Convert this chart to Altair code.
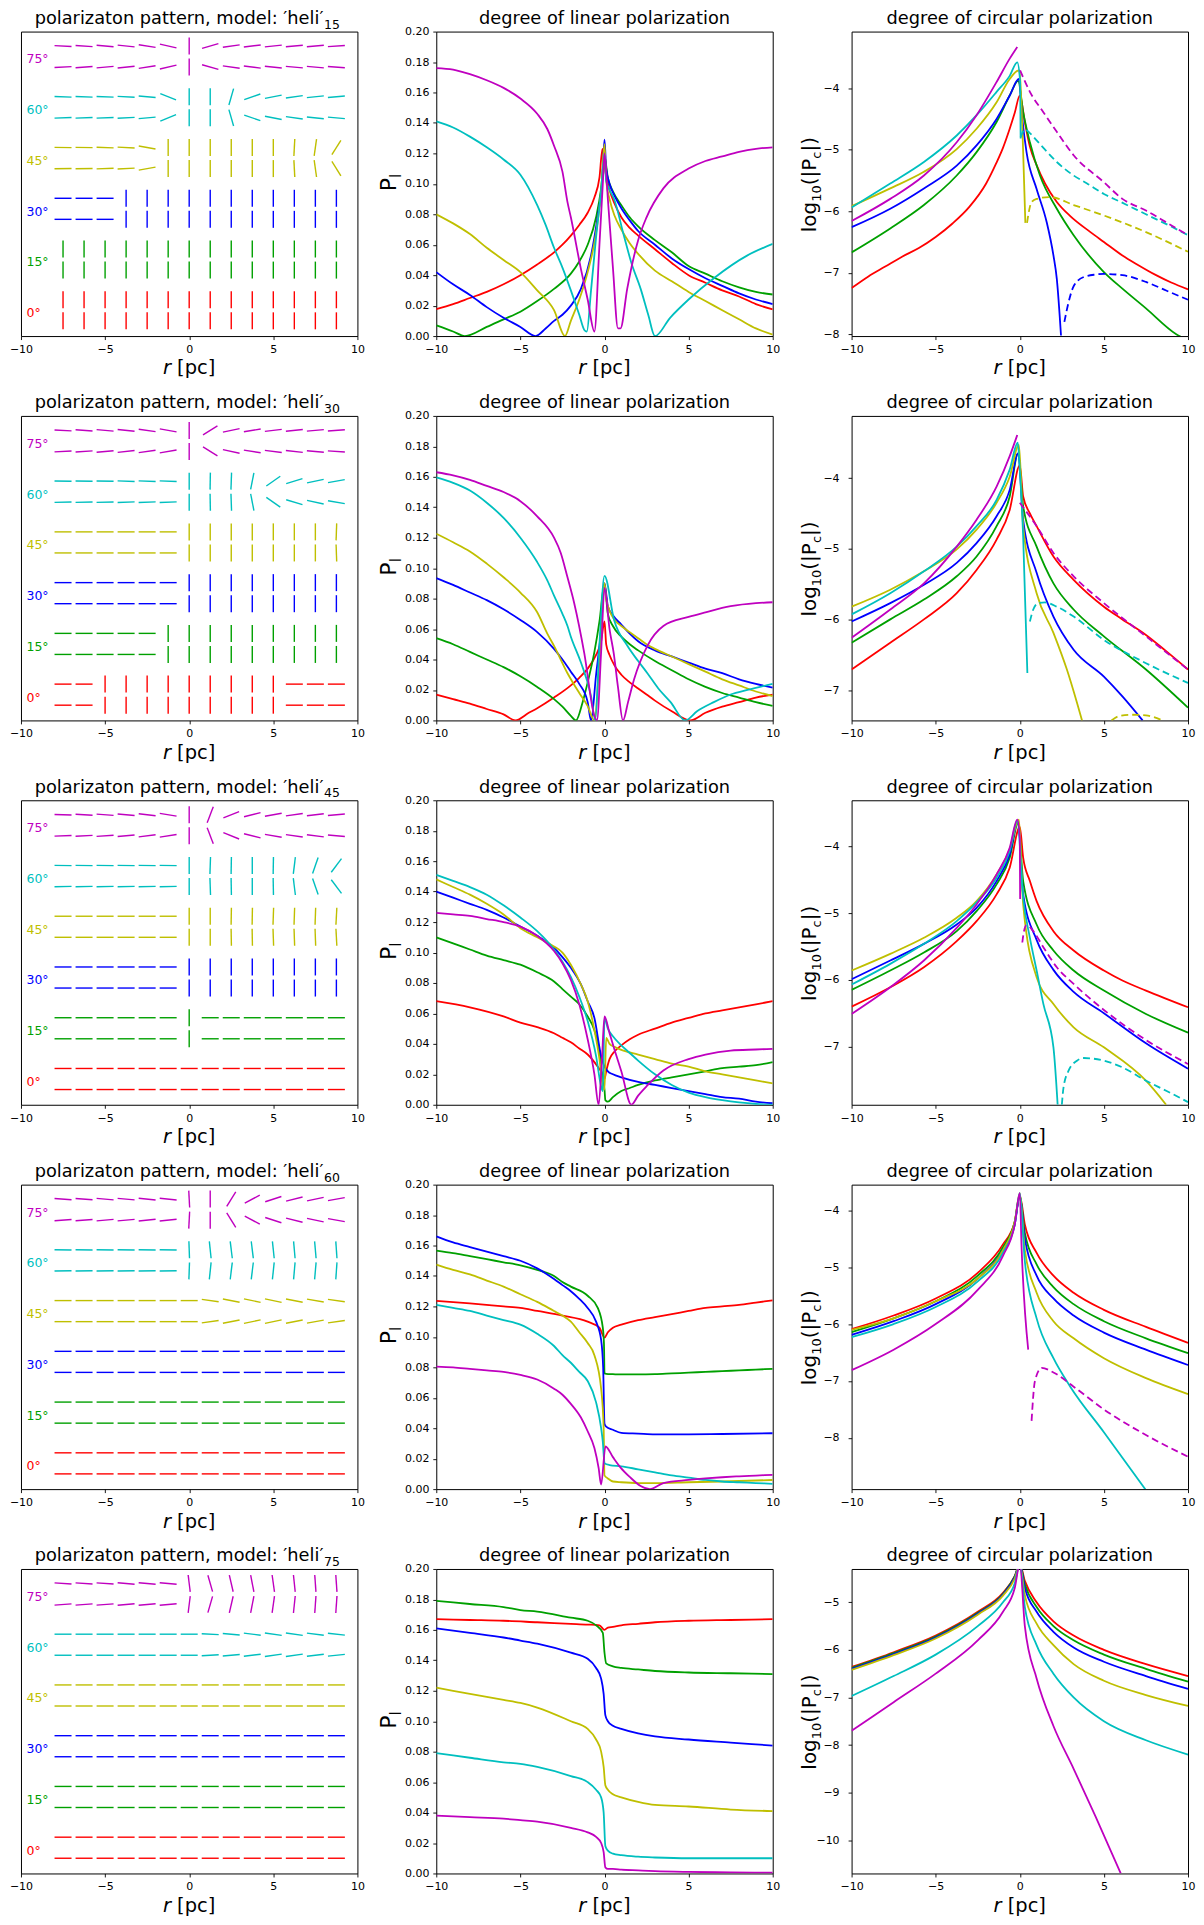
import altair as alt
import pandas as pd

FONT = "DejaVu Sans"
MODELS = [15, 30, 45, 60, 75]
GROUP_LABELS = ["0°", "15°", "30°", "45°", "60°", "75°"]
COLORS = ["#ff0000", "#00a000", "#0000ff", "#bfbf00", "#00bfbf", "#bf00bf"]
R_POS = [-7.5, -6.25, -5.0, -3.75, -2.5, -1.25, 0.0, 1.25, 2.5, 3.75, 5.0, 6.25, 7.5, 8.75]

# polarization position angle (deg) of the upper row of each group; lower row is mirrored
PA15 = [
    [90, 90, 90, 90, 90, 90, 90, 90, 90, 90, 90, 90, 90, 90],
    [90, 90, 90, 90, 90, 90, 90, 90, 90, 90, 90, 90, 90, 90],
    [0, 0, 0, 90, 90, 90, 90, 90, 90, 90, 90, 90, 90, 90],
    [-1, -1, -2, -3, -10, 90, 90, 90, 90, 90, 90, 87, 82, 58],
    [-2, -2, -2, -3, -5, -22, 90, 90, 74, 19, 11, 8, 6, 5],
    [-3, -4, -5, -6, -9, -13, 90, 16, 8, 7, 6, 5, 5, 4],
]
PA30 = [
    [0, 0, 90, 90, 90, 90, 90, 90, 90, 90, 90, 0, 0, 0],
    [0, 0, 0, 0, 0, 90, 90, 90, 90, 90, 90, 90, 90, 90],
    [0, 0, 0, 0, 0, 0, 90, 90, 90, 90, 90, 90, 90, 90],
    [0, 0, 0, 0, 0, 0, 90, 90, 90, 90, 90, 90, 90, 88],
    [-1, -1, -1, -2, -2, -2, 90, 89, 88, 79, 35, 17, 12, 10],
    [-3, -4, -5, -6, -8, -10, 90, 32, 12, 9, 7, 6, 5, 4],
]
PA45 = [
    [0, 0, 0, 0, 0, 0, 0, 0, 0, 0, 0, 0, 0, 0],
    [0, 0, 0, 0, 0, 0, 90, 0, 0, 0, 0, 0, 0, 0],
    [0, 0, 0, 0, 0, 0, 90, 90, 90, 90, 90, 90, 90, 90],
    [0, 0, 0, 0, 0, 0, 90, 90, 89, 89, 88, 88, 88, 87],
    [-1, -1, -1, -1, -1, -1, 90, 88, 89, 90, 89, 83, 71, 53],
    [-2, -3, -4, -5, -7, -9, 90, 69, 22, 14, 10, 8, 7, 5],
]
PA60 = [
    [0, 0, 0, 0, 0, 0, 0, 0, 0, 0, 0, 0, 0, 0],
    [0, 0, 0, 0, 0, 0, 0, 0, 0, 0, 0, 0, 0, 0],
    [0, 0, 0, 0, 0, 0, 0, 0, 0, 0, 0, 0, 0, 0],
    [0, 0, 0, 0, 0, 0, 0, -8, -11, -12, -12, -11, -10, -8],
    [-1, -1, -1, -1, -1, -1, 92, 96, 97, 97, 96, 95, 95, 94],
    [-4, -4, -5, -5, -6, -6, 93, 90, 58, 28, 18, 14, 12, 10],
]
PA75 = [
    [0, 0, 0, 0, 0, 0, 0, 0, 0, 0, 0, 0, 0, 0],
    [0, 0, 0, 0, 0, 0, 0, 0, 0, 0, 0, 0, 0, 0],
    [0, 0, 0, 0, 0, 0, 0, 0, 0, 0, 0, 0, 0, 0],
    [0, 0, 0, 0, 0, 0, 0, 0, 0, 0, 0, 0, 0, 0],
    [0, 0, 0, 0, 0, 0, 0, -3, -5, -7, -8, -8, -7, -6],
    [-4, -4, -4, -5, -5, -5, 97, 106, 103, 101, 98, 96, 94, 94],
]

# ---------------- degree of linear polarization, (r, P_l) ----------------
LIN15_RED = [(-10, .0177), (-9, .021), (-8, .025), (-7, .029), (-6, .034), (-5, .040), (-4, .047), (-3, .055), (-2.5, .060), (-2, .066), (-1.5, .073), (-1, .081), (-0.6, .091), (-0.3, .104), (-0.12, .123), (0.05, .108), (0.3, .096), (0.6, .087), (1, .078), (1.5, .071), (2, .066), (3, .057), (4, .048), (5, .040), (6, .035), (7, .030), (8, .026), (9, .021), (10, .0175)]
LIN15_GRN = [(-10, .007), (-9, .003), (-8.3, 0), (-7, .006), (-6, .011), (-5, .016), (-4, .023), (-3, .031), (-2, .041), (-1.5, .049), (-1, .060), (-0.5, .078), (-0.2, .097), (0, .118), (0.2, .104), (0.5, .095), (1, .086), (1.5, .078), (2, .072), (3, .063), (4, .055), (5, .046), (6, .041), (7, .036), (8, .032), (9, .029), (10, .0273)]
LIN15_BLU = [(-10, .042), (-9, .034), (-8, .027), (-7, .019), (-6, .012), (-5, .006), (-4.1, 0), (-3.5, .005), (-3, .010), (-2.5, .014), (-2, .020), (-1.4, .031), (-0.8, .053), (-0.4, .079), (-0.15, .100), (0, .129), (0.1, .110), (0.3, .100), (0.6, .092), (1, .084), (1.5, .076), (2, .069), (3, .060), (4, .051), (5, .044), (6, .038), (7, .033), (8, .028), (9, .024), (10, .021)]
LIN15_OLV = [(-10, .080), (-9, .074), (-8, .067), (-7, .058), (-6, .050), (-5, .042), (-4, .030), (-3, .017), (-2.35, 0), (-2, .010), (-1.5, .024), (-1, .042), (-0.5, .068), (-0.2, .095), (0, .126), (0.1, .102), (0.3, .090), (0.6, .079), (1, .070), (1.5, .061), (2, .054), (3, .043), (4, .036), (5, .029), (6, .023), (7, .017), (8, .011), (9, .005), (10, .001)]
LIN15_CYN = [(-10, .141), (-9, .137), (-8, .131), (-7, .124), (-6, .116), (-5, .106), (-4, .086), (-3.5, .073), (-3, .058), (-2.5, .045), (-2, .030), (-1.5, .014), (-1.2, .004), (-1.05, .003), (-0.8, .030), (-0.5, .065), (-0.2, .095), (0, .120), (0.1, .102), (0.3, .096), (0.57, .090), (1.15, .066), (1.6, .048), (2.15, .031), (2.6, .014), (3, 0), (3.9, .012), (5, .024), (6.5, .038), (8.5, .053), (10, .0605)]
LIN15_MAG = [(-10, .176), (-9, .175), (-8, .172), (-7, .168), (-6, .163), (-5, .156), (-4, .146), (-3.4, .136), (-3, .125), (-2.5, .108), (-2.2, .088), (-2, .078), (-1.4, .044), (-1, .024), (-0.6, .003), (-0.3, .060), (-0.1, .100), (0, .120), (0.2, .090), (0.5, .045), (0.8, .005), (0.95, .005), (1.35, .031), (2, .063), (2.5, .078), (3.5, .097), (5, .110), (6, .115), (7, .118), (8, .121), (9, .123), (10, .124)]

LIN30_RED = [(-10, .017), (-9, .014), (-8, .011), (-7, .0075), (-6, .004), (-5.3, 0), (-4.5, .005), (-4, .008), (-3, .015), (-2, .023), (-1.5, .028), (-1, .034), (-0.5, .043), (-0.2, .052), (0, .065), (0.1, .050), (0.3, .043), (0.6, .036), (1, .030), (1.5, .025), (2, .021), (2.5, .017), (3, .013), (4, .006), (5.1, 0), (6, .005), (7, .009), (8, .012), (9, .015), (10, .017)]
LIN30_GRN = [(-10, .054), (-9, .050), (-8, .045), (-7, .040), (-6, .035), (-5, .029), (-4, .022), (-3, .014), (-2.5, .009), (-2, .003), (-1.7, 0), (-1.3, .012), (-1, .025), (-0.6, .045), (-0.3, .065), (0, .090), (0.2, .070), (0.5, .062), (1, .055), (1.5, .050), (2, .046), (3, .039), (4, .033), (5, .027), (6, .022), (7, .018), (8, .015), (9, .012), (10, .0095)]
LIN30_BLU = [(-10, .0935), (-9, .089), (-8, .084), (-7, .079), (-6, .073), (-5, .066), (-4, .058), (-3, .047), (-2.5, .040), (-2, .032), (-1.5, .024), (-1, .012), (-0.8, 0), (-0.5, .030), (-0.2, .060), (0, .090), (0.2, .075), (0.5, .069), (1, .063), (1.5, .057), (2, .052), (3, .046), (4, .042), (5, .038), (6, .034), (7, .031), (8, .027), (9, .024), (10, .0215)]
LIN30_OLV = [(-10, .1226), (-9, .117), (-8, .111), (-7, .103), (-6, .094), (-5, .084), (-4, .071), (-3.4, .057), (-3, .049), (-2.2, .031), (-1.5, .018), (-1, .0094), (-0.6, 0), (-0.3, .040), (0, .090), (0.1, .080), (0.3, .072), (0.6, .066), (1, .062), (1.5, .058), (2, .054), (2.5, .050), (3, .047), (4, .042), (5, .037), (6, .032), (7, .027), (8, .023), (9, .019), (10, .016)]
LIN30_CYN = [(-10, .1596), (-9, .156), (-8, .151), (-7, .143), (-6, .133), (-5, .120), (-4, .104), (-3.4, .092), (-3, .082), (-2.5, .070), (-2.2, .062), (-2, .055), (-1.4, .038), (-0.8, .016), (-0.55, 0), (-0.3, .050), (0, .095), (0.57, .066), (1.36, .049), (2, .039), (2.55, .031), (3.2, .021), (3.93, .012), (4.8, 0), (5.5, .006), (6.5, .012), (7.5, .017), (8.5, .020), (10, .024)]
LIN30_MAG = [(-10, .163), (-9, .161), (-8, .158), (-7, .154), (-6, .150), (-5, .144), (-4, .134), (-3, .120), (-2.6, .110), (-2.2, .094), (-1.8, .077), (-1.2, .044), (-0.6, .003), (-0.45, 0), (-0.2, .045), (0, .087), (0.3, .060), (0.55, .044), (0.8, .022), (1.1, 0), (1.4, .012), (1.76, .027), (2.55, .049), (3.5, .062), (5, .068), (6, .071), (7.5, .075), (9, .077), (10, .0776)]

LIN45_RED = [(-10, .068), (-8, .064), (-6, .058), (-5, .054), (-4, .051), (-3, .047), (-2.5, .044), (-2, .041), (-1.5, .037), (-1, .033), (-0.4, .025), (-0.1, .020), (0, .017), (0.1, .022), (0.3, .030), (0.6, .035), (1, .039), (1.5, .043), (2, .046), (3, .050), (4, .054), (5, .057), (6, .060), (7, .062), (8, .064), (9, .066), (10, .068)]
LIN45_GRN = [(-10, .110), (-9, .106), (-8, .102), (-7, .098), (-6, .095), (-5, .092), (-4, .087), (-3, .081), (-2.5, .076), (-2, .071), (-1.5, .066), (-1, .058), (-0.6, .049), (-0.3, .035), (-0.1, .015), (0, .010), (0.05, .003), (0.2, .002), (0.5, .005), (1, .009), (1.5, .011), (2, .013), (3, .016), (4, .018), (5, .020), (6, .022), (7, .024), (8, .025), (9, .026), (10, .028)]
LIN45_BLU = [(-10, .140), (-9, .136), (-8, .132), (-7, .128), (-6, .123), (-5, .117), (-4, .111), (-3, .103), (-2.5, .097), (-2, .090), (-1.4, .079), (-1, .068), (-0.6, .057), (-0.2, .032), (0, .025), (0.2, .022), (0.5, .020), (1, .018), (2, .015), (3, .013), (4, .011), (5, .009), (6, .007), (7, .005), (8, .004), (9, .002), (10, .001)]
LIN45_OLV = [(-10, .148), (-9, .143), (-8, .138), (-7, .132), (-6, .125), (-5, .116), (-4, .110), (-3, .104), (-2.5, .100), (-2, .092), (-1.4, .079), (-1, .068), (-0.6, .049), (-0.3, .030), (-0.1, .012), (0, .010), (0.1, .044), (0.3, .040), (0.6, .038), (1, .036), (2, .033), (3, .030), (4, .027), (5, .025), (6, .022), (7, .020), (8, .018), (9, .016), (10, .014)]
LIN45_CYN = [(-10, .151), (-9, .147), (-8, .143), (-7, .138), (-6, .131), (-5, .123), (-4, .114), (-3, .102), (-2.5, .094), (-2, .084), (-1.5, .071), (-1, .055), (-0.5, .032), (-0.2, .012), (-0.1, .009), (0, .057), (0.2, .050), (0.5, .045), (1, .039), (1.5, .034), (2, .029), (3, .020), (4, .013), (5, .008), (6, .005), (7, .003), (8, .0015), (9, .0005), (10, 0)]
LIN45_MAG = [(-10, .126), (-9, .125), (-8, .124), (-7, .122), (-6, .120), (-5, .117), (-4, .111), (-3, .101), (-2.5, .093), (-2, .082), (-1.5, .066), (-1, .043), (-0.6, .020), (-0.35, 0), (-0.15, .030), (0, .058), (0.3, .047), (0.6, .036), (1, .022), (1.6, 0), (2, .006), (2.55, .0127), (3.5, .0225), (5, .030), (6, .033), (7.5, .0356), (9, .0363), (10, .0367)]

LIN60_RED = [(-10, .1237), (-8, .122), (-6, .120), (-5, .119), (-4, .117), (-2.5, .114), (-1, .110), (-0.3, .106), (0, .0995), (0.2, .103), (0.5, .106), (1, .108), (2, .111), (3, .113), (4, .115), (5, .117), (6, .119), (7, .120), (8, .121), (9, .1225), (10, .124)]
LIN60_GRN = [(-10, .1567), (-9, .155), (-8, .153), (-7, .151), (-6, .149), (-5, .147), (-4, .144), (-3, .140), (-2.5, .136), (-2, .133), (-1, .127), (-0.4, .119), (-0.1, .106), (-0.03, .095), (0, .076), (0.1, .0757), (0.5, .0755), (1, .0753), (2, .0753), (3, .0755), (4, .076), (5, .0765), (6, .077), (7, .0775), (8, .078), (9, .0785), (10, .079)]
LIN60_BLU = [(-10, .166), (-9, .162), (-8, .159), (-7, .156), (-6, .153), (-5, .150), (-4, .145), (-3, .138), (-2.5, .134), (-2, .130), (-1.5, .125), (-1, .119), (-0.5, .110), (-0.2, .098), (-0.08, .080), (0, .043), (0.1, .041), (0.5, .039), (1, .037), (2, .0365), (3, .036), (5, .036), (7, .0362), (10, .0367)]
LIN60_OLV = [(-10, .1475), (-9, .144), (-8, .141), (-7, .137), (-6, .133), (-5, .128), (-4, .123), (-3, .117), (-2.5, .114), (-2, .110), (-1.5, .103), (-1, .096), (-0.6, .088), (-0.2, .066), (-0.05, .040), (0, .009), (0.2, .007), (0.5, .005), (1, .0045), (2, .004), (3, .004), (5, .0045), (7, .005), (10, .006)]
LIN60_CYN = [(-10, .121), (-9, .119), (-8, .117), (-7, .114), (-6, .111), (-5, .108), (-4, .102), (-3, .094), (-2.5, .088), (-2, .083), (-1.5, .077), (-1, .071), (-0.5, .057), (-0.2, .040), (-0.1, .031), (0, .017), (0.3, .0158), (1, .015), (2, .013), (3, .011), (4, .009), (5, .0075), (6, .006), (7, .005), (8, .0045), (9, .004), (10, .0035)]
LIN60_MAG = [(-10, .0805), (-9, .080), (-8, .079), (-7, .078), (-6, .077), (-5, .075), (-4, .072), (-3, .066), (-2.5, .062), (-2, .056), (-1.4, .047), (-1, .038), (-0.6, .027), (-0.35, .014), (-0.2, .003), (0.06, .028), (0.5, .021), (0.97, .014), (1.5, .008), (2.15, .002), (2.7, 0), (3.5, .004), (5, .006), (6, .007), (7, .0078), (8, .0084), (9, .0089), (10, .0094)]

LIN75_RED = [(-10, .167), (-8, .1665), (-6, .166), (-4, .165), (-2, .164), (-1, .1635), (-0.3, .163), (0, .160), (0.2, .1615), (0.5, .162), (1, .163), (2, .164), (3, .165), (5, .166), (7.5, .1665), (10, .167)]
LIN75_GRN = [(-10, .179), (-8, .177), (-6, .175), (-5, .173), (-4, .172), (-2, .168), (-1, .166), (-0.5, .163), (-0.1, .158), (0, .145), (0.1, .138), (0.5, .136), (1, .135), (2, .134), (3, .133), (5, .132), (7.5, .1315), (10, .131)]
LIN75_BLU = [(-10, .161), (-8, .158), (-6, .155), (-5, .153), (-4, .151), (-2, .145), (-1, .141), (-0.5, .135), (-0.2, .128), (-0.05, .118), (0.05, .104), (0.2, .100), (0.5, .097), (1, .095), (2, .092), (3, .090), (5, .088), (7.5, .086), (10, .084)]
LIN75_OLV = [(-10, .122), (-8, .118), (-6, .114), (-5, .112), (-4, .109), (-2, .100), (-1, .095), (-0.5, .088), (-0.2, .080), (-0.05, .070), (0.05, .058), (0.2, .055), (0.5, .052), (1, .050), (2, .047), (3, .045), (5, .044), (7.5, .042), (10, .041)]
LIN75_CYN = [(-10, .079), (-8, .076), (-6, .073), (-5, .072), (-4, .070), (-2, .064), (-1, .060), (-0.5, .055), (-0.2, .050), (-0.05, .040), (0.05, .018), (0.2, .015), (0.5, .013), (1, .012), (2, .011), (3, .0105), (5, .010), (7.5, .010), (10, .010)]
LIN75_MAG = [(-10, .038), (-8, .037), (-6, .036), (-5, .035), (-4, .034), (-2, .030), (-1, .027), (-0.5, .024), (-0.2, .020), (-0.05, .014), (0.05, .004), (0.2, .003), (0.5, .003), (1, .0025), (2, .002), (3, .0015), (5, .001), (7.5, .0007), (10, .0005)]

# ---------------- degree of circular polarization, (r, log10|P_c|) ----------------
CIRC15_RED = [(-10, -7.25), (-9, -7.06), (-8, -6.90), (-7, -6.74), (-6, -6.60), (-5, -6.42), (-4, -6.20), (-3, -5.93), (-2, -5.55), (-1.4, -5.22), (-1, -4.97), (-0.6, -4.66), (-0.3, -4.40), (0, -4.12), (0.05, -4.15), (0.3, -4.55), (0.6, -4.95), (1, -5.25), (1.5, -5.55), (2.2, -5.85), (3, -6.08), (4.2, -6.34), (5, -6.50), (6.1, -6.72), (7, -6.87), (8.1, -7.04), (9, -7.16), (10, -7.27)]
CIRC15_GRN = [(-10, -6.67), (-7.7, -6.28), (-5.7, -5.90), (-3.75, -5.42), (-2.57, -5.04), (-1.38, -4.55), (-0.6, -4.12), (-0.1, -3.88), (0.2, -4.39), (0.6, -4.88), (1.2, -5.42), (2.2, -5.96), (3.2, -6.39), (5, -6.99), (6.1, -7.26), (7.5, -7.58), (9.3, -8.00), (10, -8.10)]
CIRC15_BLU = [(-10, -6.26), (-7.7, -5.96), (-5.7, -5.63), (-3.75, -5.26), (-2.57, -4.93), (-1.38, -4.50), (-0.6, -4.12), (-0.05, -3.85), (0.15, -4.50), (0.4, -5.04), (1, -5.64), (1.6, -6.18), (2, -6.72), (2.2, -7.10), (2.45, -8.02)]
CIRC15_BLU_NEG = [(2.65, -7.80), (2.9, -7.48), (3.2, -7.22), (3.8, -7.07), (4.5, -7.03), (5, -7.02), (6.1, -7.04), (7.5, -7.15), (8.7, -7.29), (10, -7.44)]
CIRC15_OLV = [(-10, -5.92), (-7.7, -5.63), (-5.7, -5.36), (-3.75, -4.99), (-2.57, -4.66), (-1.38, -4.23), (-0.6, -3.85), (-0.05, -3.71), (0, -3.77), (0.2, -5.04), (0.33, -6.19)]
CIRC15_OLV_NEG = [(0.43, -6.19), (0.7, -5.85), (1, -5.80), (1.8, -5.77), (3.2, -5.90), (5, -6.07), (7.5, -6.34), (10, -6.66)]
CIRC15_CYN = [(-10, -5.94), (-7.7, -5.55), (-5.7, -5.20), (-3.75, -4.77), (-2.57, -4.44), (-1.38, -4.06), (-0.6, -3.80), (-0.15, -3.58), (0.02, -3.90), (0.05, -4.82)]
CIRC15_CYN_NEG = [(0.05, -4.80), (0.3, -4.67), (0.6, -4.73), (1, -4.85), (1.5, -5.00), (2.2, -5.20), (3.2, -5.42), (4, -5.55), (5, -5.72), (6, -5.85), (7.5, -6.05), (9, -6.25), (10, -6.39)]
CIRC15_MAG = [(-10, -6.16), (-7.7, -5.80), (-5.7, -5.42), (-3.75, -4.88), (-2.57, -4.44), (-1.38, -3.90), (-0.6, -3.52), (-0.15, -3.33)]
CIRC15_MAG_NEG = [(0.02, -3.71), (0.6, -4.06), (1.4, -4.39), (2.2, -4.71), (3.2, -5.09), (5, -5.53), (6.1, -5.80), (7.5, -5.99), (8.7, -6.18), (10, -6.39)]

CIRC30_RED = [(-10, -6.71), (-7.7, -6.33), (-5.7, -6.00), (-3.75, -5.63), (-2.57, -5.30), (-1.38, -4.87), (-0.6, -4.45), (0, -3.82), (0.2, -4.26), (0.6, -4.50), (1, -4.68), (2, -5.11), (3.2, -5.44), (5, -5.82), (6.1, -6.00), (7.5, -6.22), (8.7, -6.45), (10, -6.71)]
CIRC30_GRN = [(-10, -6.33), (-7.7, -6.00), (-5.7, -5.72), (-3.75, -5.39), (-2.57, -5.11), (-1.38, -4.68), (-0.6, -4.26), (-0.1, -3.65), (0.2, -4.40), (1, -4.97), (2, -5.49), (3.2, -5.86), (5, -6.24), (7.5, -6.71), (10, -7.25)]
CIRC30_BLU = [(-10, -6.03), (-7.7, -5.77), (-5.7, -5.51), (-3.75, -5.20), (-2.57, -4.92), (-1.38, -4.54), (-0.6, -4.17), (-0.1, -3.65), (0.2, -4.59), (1, -5.34), (2, -5.96), (3.2, -6.43), (5, -6.81), (6.1, -7.09), (7.3, -7.43)]
CIRC30_OLV = [(-10, -5.82), (-7.7, -5.58), (-5.7, -5.32), (-3.75, -5.01), (-2.57, -4.73), (-1.38, -4.35), (-0.6, -3.98), (-0.05, -3.53), (0.2, -4.68), (1, -5.63), (2, -6.19), (2.8, -6.71), (3.4, -7.18), (3.7, -7.43)]
CIRC30_OLV_NEG = [(5.45, -7.43), (5.9, -7.37), (6.7, -7.35), (7.5, -7.36), (8.5, -7.43)]
CIRC30_CYN = [(-10, -5.93), (-7.7, -5.63), (-5.7, -5.32), (-3.75, -4.97), (-2.57, -4.68), (-1.38, -4.31), (-0.6, -3.88), (-0.12, -3.50), (0, -3.88), (0.2, -4.83), (0.45, -6.76)]
CIRC30_CYN_NEG = [(0.6, -6.03), (0.8, -5.86), (1.1, -5.77), (1.5, -5.76), (2.2, -5.82), (3.2, -5.96), (5, -6.29), (7.5, -6.62), (10, -6.90)]
CIRC30_MAG = [(-10, -6.26), (-7.7, -5.86), (-5.7, -5.49), (-3.75, -4.97), (-2.57, -4.59), (-1.38, -4.12), (-0.6, -3.69), (-0.15, -3.39)]
CIRC30_MAG_NEG = [(0, -4.35), (1, -4.68), (2, -5.06), (3.2, -5.39), (5, -5.77), (7.5, -6.24), (10, -6.71)]

CIRC45_RED = [(-10, -6.40), (-7.7, -6.11), (-5.7, -5.81), (-3.75, -5.42), (-2.57, -5.12), (-1.38, -4.72), (-0.6, -4.32), (0, -3.71), (0.2, -4.17), (0.6, -4.52), (1, -4.82), (2, -5.27), (3.2, -5.56), (5, -5.86), (6.1, -6.01), (7.5, -6.16), (10, -6.41)]
CIRC45_GRN = [(-10, -6.15), (-7.7, -5.86), (-5.7, -5.59), (-3.75, -5.27), (-2.57, -4.97), (-1.38, -4.57), (-0.6, -4.17), (-0.1, -3.65), (0.2, -4.52), (1, -5.17), (2, -5.56), (3.2, -5.86), (5, -6.16), (7.5, -6.51), (10, -6.79)]
CIRC45_BLU = [(-10, -5.99), (-7.7, -5.71), (-5.7, -5.46), (-3.75, -5.17), (-2.57, -4.92), (-1.38, -4.52), (-0.6, -4.12), (-0.1, -3.63), (0.2, -4.72), (1, -5.40), (2, -5.85), (3.2, -6.18), (5, -6.50), (7.5, -6.95), (10, -7.33)]
CIRC45_OLV = [(-10, -5.86), (-7.7, -5.61), (-5.7, -5.37), (-3.75, -5.07), (-2.57, -4.82), (-1.38, -4.42), (-0.6, -4.04), (-0.05, -3.60), (0.2, -4.87), (1, -5.96), (2, -6.36), (3.2, -6.71), (5, -7.01), (7.5, -7.51), (8.7, -7.87)]
CIRC45_CYN = [(-10, -6.07), (-7.7, -5.76), (-5.7, -5.46), (-3.75, -5.12), (-2.57, -4.84), (-1.38, -4.47), (-0.6, -4.07), (-0.15, -3.62), (0.2, -4.77), (0.6, -5.37), (1, -5.86), (1.4, -6.36), (2, -7.01), (2.25, -7.87)]
CIRC45_CYN_NEG = [(2.5, -7.87), (2.6, -7.61), (2.9, -7.36), (3.4, -7.21), (3.8, -7.17), (5, -7.21), (6.1, -7.31), (7.5, -7.51), (8.7, -7.66), (10, -7.83)]
CIRC45_MAG = [(-10, -6.51), (-7.7, -6.11), (-5.7, -5.71), (-3.75, -5.22), (-2.57, -4.87), (-1.38, -4.42), (-0.6, -4.02), (-0.15, -3.60), (0, -3.87), (0.02, -4.79)]
CIRC45_MAG_NEG = [(0.15, -5.44), (0.25, -5.27), (0.4, -5.18), (0.8, -5.27), (1.4, -5.51), (2.2, -5.81), (3.2, -6.06), (5, -6.45), (7.5, -6.90), (10, -7.26)]

CIRC60_RED = [(-10, -6.09), (-7.5, -5.85), (-5, -5.55), (-2.5, -5.10), (-1, -4.60), (-0.3, -4.20), (0, -3.75), (0.3, -4.25), (1, -4.75), (2, -5.15), (3.2, -5.45), (5, -5.75), (7.5, -6.05), (10, -6.33)]
CIRC60_GRN = [(-10, -6.14), (-7.5, -5.90), (-5, -5.60), (-2.5, -5.15), (-1, -4.65), (-0.3, -4.20), (0, -3.75), (0.3, -4.40), (1, -4.95), (2, -5.35), (3.2, -5.65), (5, -5.95), (7.5, -6.25), (10, -6.51)]
CIRC60_BLU = [(-10, -6.19), (-7.5, -5.95), (-5, -5.65), (-2.5, -5.20), (-1, -4.70), (-0.3, -4.25), (0, -3.75), (0.3, -4.50), (1, -5.15), (2, -5.55), (3.2, -5.85), (5, -6.15), (7.5, -6.45), (10, -6.72)]
CIRC60_OLV = [(-10, -6.10), (-7.5, -5.90), (-5, -5.60), (-2.5, -5.20), (-1, -4.70), (-0.3, -4.20), (0, -3.70), (0.3, -4.70), (1, -5.45), (2, -5.95), (3.2, -6.25), (5, -6.60), (7.5, -6.95), (10, -7.23)]
CIRC60_CYN = [(-10, -6.23), (-7.5, -6.00), (-5, -5.70), (-2.5, -5.25), (-1, -4.75), (-0.3, -4.25), (0, -3.70), (0.3, -4.90), (1, -5.90), (2, -6.60), (3, -7.10), (5, -7.90), (7.7, -9.00)]
CIRC60_MAG = [(-10, -6.81), (-7.5, -6.45), (-5, -6.00), (-2.5, -5.40), (-1, -4.80), (-0.3, -4.25), (0, -3.70), (0.1, -4.60), (0.5, -6.45)]
CIRC60_MAG_NEG = [(0.7, -7.70), (0.9, -7.00), (1.3, -6.77), (2, -6.85), (3.2, -7.10), (5, -7.50), (7.5, -7.95), (10, -8.33)]

CIRC75_RED = [(-10, -6.36), (-7.5, -6.05), (-5, -5.70), (-2.5, -5.20), (-1, -4.80), (-0.3, -4.45), (0, -4.20), (0.3, -4.55), (1, -5.00), (2, -5.40), (3.2, -5.70), (5, -6.00), (7.5, -6.30), (10, -6.55)]
CIRC75_GRN = [(-10, -6.38), (-7.5, -6.07), (-5, -5.72), (-2.5, -5.22), (-1, -4.82), (-0.3, -4.45), (0, -4.20), (0.3, -4.62), (1, -5.10), (2, -5.50), (3.2, -5.80), (5, -6.10), (7.5, -6.40), (10, -6.67)]
CIRC75_BLU = [(-10, -6.40), (-7.5, -6.09), (-5, -5.74), (-2.5, -5.24), (-1, -4.84), (-0.3, -4.47), (0, -4.20), (0.3, -4.70), (1, -5.20), (2, -5.62), (3.2, -5.95), (5, -6.25), (7.5, -6.55), (10, -6.82)]
CIRC75_OLV = [(-10, -6.42), (-7.5, -6.11), (-5, -5.76), (-2.5, -5.26), (-1, -4.86), (-0.3, -4.50), (0, -4.20), (0.3, -4.85), (1, -5.45), (2, -5.90), (3.2, -6.30), (5, -6.65), (7.5, -6.95), (10, -7.18)]
CIRC75_CYN = [(-10, -6.97), (-7.5, -6.55), (-5, -6.10), (-2.5, -5.50), (-1, -5.00), (-0.3, -4.60), (0, -4.20), (0.3, -5.10), (1, -5.90), (2, -6.50), (3.2, -7.00), (5, -7.50), (7.5, -7.90), (10, -8.20)]
CIRC75_MAG = [(-10, -7.70), (-7.5, -7.10), (-5, -6.50), (-2.5, -5.80), (-1, -5.20), (-0.3, -4.70), (0, -4.20), (0.3, -5.50), (1, -6.60), (2, -7.60), (3.2, -8.50), (4.5, -9.50), (6, -10.70)]

LIN_SERIES = {
    15: [LIN15_RED, LIN15_GRN, LIN15_BLU, LIN15_OLV, LIN15_CYN, LIN15_MAG],
    30: [LIN30_RED, LIN30_GRN, LIN30_BLU, LIN30_OLV, LIN30_CYN, LIN30_MAG],
    45: [LIN45_RED, LIN45_GRN, LIN45_BLU, LIN45_OLV, LIN45_CYN, LIN45_MAG],
    60: [LIN60_RED, LIN60_GRN, LIN60_BLU, LIN60_OLV, LIN60_CYN, LIN60_MAG],
    75: [LIN75_RED, LIN75_GRN, LIN75_BLU, LIN75_OLV, LIN75_CYN, LIN75_MAG],
}
# (solid, dashed) per colour
CIRC_SERIES = {
    15: [(CIRC15_RED, None), (CIRC15_GRN, None), (CIRC15_BLU, CIRC15_BLU_NEG), (CIRC15_OLV, CIRC15_OLV_NEG), (CIRC15_CYN, CIRC15_CYN_NEG), (CIRC15_MAG, CIRC15_MAG_NEG)],
    30: [(CIRC30_RED, None), (CIRC30_GRN, None), (CIRC30_BLU, None), (CIRC30_OLV, CIRC30_OLV_NEG), (CIRC30_CYN, CIRC30_CYN_NEG), (CIRC30_MAG, CIRC30_MAG_NEG)],
    45: [(CIRC45_RED, None), (CIRC45_GRN, None), (CIRC45_BLU, None), (CIRC45_OLV, None), (CIRC45_CYN, CIRC45_CYN_NEG), (CIRC45_MAG, CIRC45_MAG_NEG)],
    60: [(CIRC60_RED, None), (CIRC60_GRN, None), (CIRC60_BLU, None), (CIRC60_OLV, None), (CIRC60_CYN, None), (CIRC60_MAG, CIRC60_MAG_NEG)],
    75: [(CIRC75_RED, None), (CIRC75_GRN, None), (CIRC75_BLU, None), (CIRC75_OLV, None), (CIRC75_CYN, None), (CIRC75_MAG, None)],
}
CIRC_DOMAIN = {15: [-8.03, -3.08], 30: [-7.43, -3.12], 45: [-7.87, -3.31], 60: [-8.9, -3.55], 75: [-10.7, -4.3]}
CIRC_TICKS = {15: [-8, -7, -6, -5, -4], 30: [-7, -6, -5, -4], 45: [-7, -6, -5, -4], 60: [-8, -7, -6, -5, -4], 75: [-10, -9, -8, -7, -6, -5]}
PA = {15: PA15, 30: PA30, 45: PA45, 60: PA60, 75: PA75}

W, H = 337, 305
X_SCALE = alt.Scale(domain=[-10, 10], nice=False, zero=False)
X_AXIS = alt.Axis(values=[-10, -5, 0, 5, 10], format="d", title=None)
TXT = dict(font=FONT, color="black")
LW = 1.8
TITLE_SIZE = 17.8


def text_layer(text, size, x, y, align, angle=0, style="normal"):
    return alt.Chart(pd.DataFrame({"t": [text]})).mark_text(
        angle=angle, fontSize=size, align=align, baseline="alphabetic", fontStyle=style, **TXT).encode(
        x=alt.value(x), y=alt.value(y), text="t:N")


def xtitle_layers():
    return [text_layer("r", 19.5, 142.2, H + 38.5, "left", style="italic"),
            text_layer("[pc]", 19.5, 156.4, H + 38.5, "left")]


def pattern_panel(model):
    rows = []
    for g, angles in enumerate(PA[model]):
        for r, a in zip(R_POS, angles):
            rows.append({"r": r, "y": g + 0.715, "ang": (360 - a) % 360, "c": COLORS[g]})
            rows.append({"r": r, "y": g + 0.30, "ang": (360 + a) % 360, "c": COLORS[g]})
    segs = alt.Chart(pd.DataFrame(rows)).mark_point(shape="stroke", size=290, strokeWidth=1.4, filled=False, opacity=1).encode(
        x=alt.X("r:Q", scale=X_SCALE, axis=X_AXIS),
        y=alt.Y("y:Q", scale=alt.Scale(domain=[0, 6], nice=False, zero=False), axis=None),
        angle=alt.Angle("ang:Q", scale=None),
        stroke=alt.Stroke("c:N", scale=None),
    )
    lab = pd.DataFrame({"t": GROUP_LABELS, "y": [g + 0.45 for g in range(6)], "c": COLORS})
    labels = alt.Chart(lab).mark_text(align="left", baseline="middle", fontSize=12.5, font=FONT).encode(
        x=alt.value(5.5), y=alt.Y("y:Q"), text="t:N", color=alt.Color("c:N", scale=None))
    title = [text_layer("polarizaton pattern, model: ′heli′", TITLE_SIZE, 303.0, -7.5, "right"),
             text_layer(str(model), 12.5, 303.6, -3.0, "left")]
    return alt.layer(segs, labels, *title, *xtitle_layers()).properties(width=W, height=H)


def curves_df(series_list):
    rows = []
    for k, (pts, col) in enumerate(series_list):
        for i, (r, v) in enumerate(pts):
            rows.append({"r": r, "v": v, "s": f"{k:02d}", "c": col, "i": i})
    return pd.DataFrame(rows)


def lin_panel(model):
    df = curves_df(list(zip(LIN_SERIES[model], COLORS)))
    lines = alt.Chart(df).mark_line(strokeWidth=LW, clip=True, interpolate="monotone").encode(
        x=alt.X("r:Q", scale=X_SCALE, axis=X_AXIS),
        y=alt.Y("v:Q", scale=alt.Scale(domain=[0, 0.2], nice=False, zero=False),
                axis=alt.Axis(values=[i * 0.02 for i in range(11)], format=".2f", title=None, labelPadding=3.8)),
        color=alt.Color("c:N", scale=None), detail="s:N", order="i:Q")
    ytitle = [text_layer("P", 22, -40, 160, "left", angle=270),
              text_layer("l", 15, -35, 146.7, "left", angle=270)]
    title = [text_layer("degree of linear polarization", TITLE_SIZE, W / 2, -7.5, "center")]
    return alt.layer(lines, *ytitle, *title, *xtitle_layers()).properties(width=W, height=H)


def circ_panel(model):
    solid = [(s, c) for (s, d), c in zip(CIRC_SERIES[model], COLORS)]
    dashed = [(d, c) for (s, d), c in zip(CIRC_SERIES[model], COLORS) if d is not None]
    ysc = alt.Scale(domain=CIRC_DOMAIN[model], nice=False, zero=False)
    yax = alt.Axis(values=CIRC_TICKS[model], format="d", title=None, labelPadding=9)
    layers = [alt.Chart(curves_df(solid)).mark_line(strokeWidth=LW, clip=True, interpolate="monotone").encode(
        x=alt.X("r:Q", scale=X_SCALE, axis=X_AXIS), y=alt.Y("v:Q", scale=ysc, axis=yax),
        color=alt.Color("c:N", scale=None), detail="s:N", order="i:Q")]
    if dashed:
        layers.append(alt.Chart(curves_df(dashed)).mark_line(
            strokeWidth=LW, clip=True, strokeDash=[7, 4], interpolate="monotone").encode(
            x=alt.X("r:Q", scale=X_SCALE, axis=X_AXIS), y=alt.Y("v:Q", scale=ysc, axis=yax),
            color=alt.Color("c:N", scale=None), detail="s:N", order="i:Q"))
    bx, sx = -35.5, -30.5
    layers += [text_layer("log", 20, bx, 201, "left", angle=270),
               text_layer("10", 13, sx, 170.5, "left", angle=270),
               text_layer("(|P", 20, bx, 154, "left", angle=270),
               text_layer("c", 13, sx, 127.4, "left", angle=270),
               text_layer("|)", 20, bx, 120.2, "left", angle=270)]
    layers += [text_layer("degree of circular polarization", TITLE_SIZE, W / 2, -7.5, "center")]
    layers += xtitle_layers()
    return alt.layer(*layers).properties(width=W, height=H)


panels = []
for m in MODELS:
    panels += [pattern_panel(m), lin_panel(m), circ_panel(m)]

chart = alt.concat(*panels, columns=3, spacing={"row": 80, "column": 79}, bounds="flush").configure(
    padding=0).configure_view(
    stroke="black", strokeWidth=1).configure_axis(
    grid=False, domain=False, ticks=True, tickSize=3.5, tickWidth=0.9, tickColor="black",
    labelFont=FONT, labelFontSize=11, labelColor="black", labelPadding=4, labelFlush=False,
    titleFont=FONT, titleFontSize=19, titleFontWeight="normal", titleColor="black",
)

chart.save("out.html", embed_options={"renderer": "svg", "actions": False})
